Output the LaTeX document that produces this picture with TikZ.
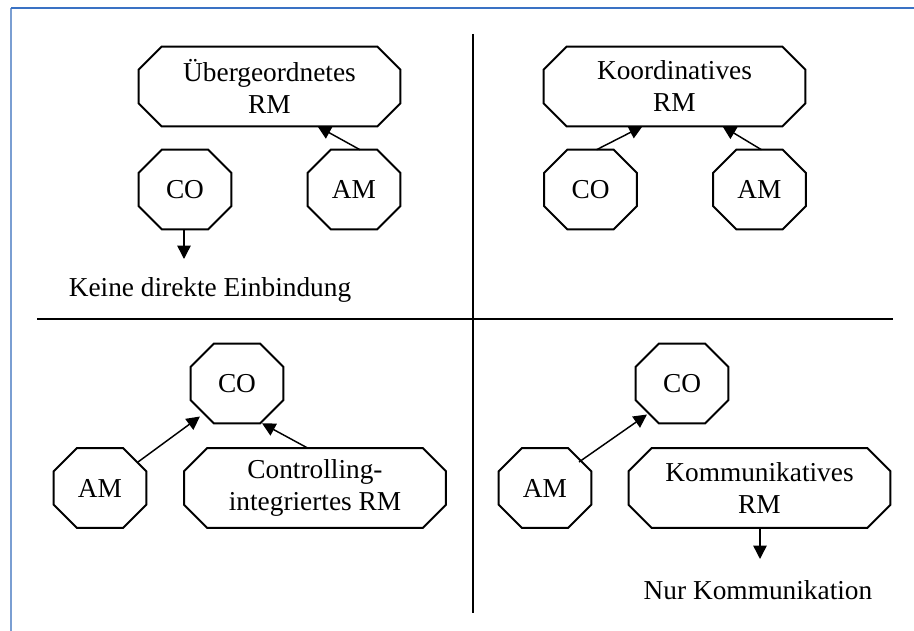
\documentclass[tikz,border=0pt]{standalone}
\usepackage{fontspec}
\setmainfont{Liberation Serif}
\usetikzlibrary{arrows.meta,calc}
\definecolor{frameleft}{RGB}{122,158,210}
\definecolor{frametop}{RGB}{58,114,196}

\begin{document}
\begin{tikzpicture}[x=.75pt,y=-.75pt,font=\fontsize{20.5}{24}\selectfont,
 oct/.style={inner sep=0pt,align=center,minimum width=69pt,minimum height=59.25pt},
 wide/.style={oct,minimum width=196pt},
 octline/.style={line width=1.5pt,line join=miter},
 ref/.style={-{Triangle[length=10pt,width=10pt]},line width=1.1pt},
 sep/.style={line width=1.5pt}]
\useasboundingbox (0,0) rectangle (914,631);
\draw[frameleft,line width=1.6pt] (11,631) -- (11,8);
\draw[frametop,line width=.8pt] (11,8) -- (914,8);
% quadrant lines
\draw[sep] (473,34) -- (473,613);
\draw[sep] (37,319) -- (893,319);
% top left
\node[wide] (rm1) at (269.5,86.5) {Übergeordnetes\\RM};
\node[oct] (co1) at (185,189.5) {CO};
\node[oct] (am1) at (354,189.5) {AM};
\node (none1) at (210,290) {Keine direkte Einbindung};
\coordinate (co1end) at (184,259);
% top right
\node[wide] (rm2) at (674.5,86.5) {Koordinatives\\RM};
\node[oct] (co2) at (590.5,189.5) {CO};
\node[oct] (am2) at (759.5,189.5) {AM};
% bottom left
\node[oct] (co3) at (237,383.5) {CO};
\node[oct] (am3) at (100,488) {AM};
\node[wide] (rm3) at (315,488) {Controlling-\\integriertes RM};
% bottom right
\node[oct] (co4) at (682,383.5) {CO};
\node[oct] (am4) at (545,488) {AM};
\node[wide] (rm4) at (759.5,488) {Kommunikatives\\RM};
\node (com4) at (758,590) {Nur Kommunikation};
\coordinate (rm4end) at (760,559);
% octagon outlines
\foreach \n in {rm1,co1,am1,rm2,co2,am2,co3,am3,rm3,co4,am4,rm4}
 \draw[octline] ([xshift=17.25pt]\n.north west) -- ([xshift=-17.25pt]\n.north east)
  -- ([yshift=-17.25pt]\n.north east) -- ([yshift=17.25pt]\n.south east)
  -- ([xshift=-17.25pt]\n.south east) -- ([xshift=17.25pt]\n.south west)
  -- ([yshift=17.25pt]\n.south west) -- ([yshift=-17.25pt]\n.north west) -- cycle;
% arrows
\draw[ref] ($(am1.north)+(6,0)$) -- ($(rm1.south)+(48,0)$);
\draw[ref] (co1.south -| co1end) -- (co1end);
\draw[ref] ($(co2.north)+(6,0)$) -- ($(rm2.south)+(-32,0)$);
\draw[ref] ($(am2.north)+(2,0)$) -- ($(rm2.south)+(48,0)$);
\draw[ref] ($(am3)+(38,-26)$) -- ($(co3)+(-37,33)$);
\draw[ref] ($(rm3.north)+(-7,0)$) -- ($(co3.south)+(25,0)$);
\draw[ref] ($(am4)+(34,-26)$) -- ($(co4)+(-35,31)$);
\draw[ref] (rm4.south -| rm4end) -- (rm4end);
\end{tikzpicture}
\end{document}
